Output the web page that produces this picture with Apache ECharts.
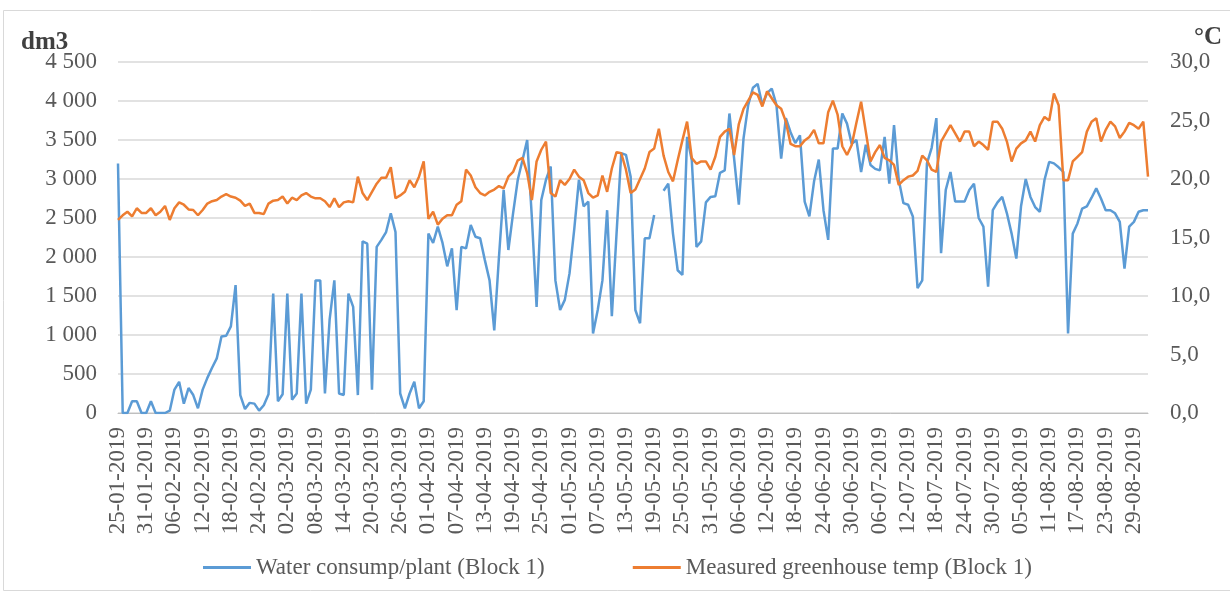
<!DOCTYPE html>
<html>
<head>
<meta charset="utf-8">
<script src="https://cdn.jsdelivr.net/npm/echarts@6/dist/echarts.min.js"></script>
<style>
html,body{margin:0;padding:0;background:#fff;}
#chart{width:1230px;height:594px;}
</style>
</head>
<body>
<div id="chart"></div>
<script>
// ---- data ----
const startDate = [2019, 0, 25];   // 25-01-2019
const dayCount = 220;              // 25-01-2019 .. 01-09-2019
const categories = [];
for (let i = 0; i < dayCount; i++) {
  const d = new Date(Date.UTC(startDate[0], startDate[1], startDate[2] + i));
  const dd = String(d.getUTCDate()).padStart(2, '0');
  const mm = String(d.getUTCMonth() + 1).padStart(2, '0');
  categories.push(dd + '-' + mm + '-' + d.getUTCFullYear());
}

const waterConsumption = [
  3200, 0, 0, 150, 150, 0, 0, 150, 0, 0,
  0, 30, 300, 400, 120, 320, 230, 60, 300, 450,
  580, 700, 980, 990, 1110, 1640, 230, 50, 130, 120,
  30, 100, 240, 1530, 150, 240, 1530, 170, 250, 1530,
  120, 300, 1700, 1700, 250, 1200, 1700, 250, 230, 1530,
  1360, 230, 2200, 2170, 300, 2130, 2220, 2320, 2560, 2320,
  250, 60, 250, 400, 60, 150, 2300, 2180, 2390, 2180,
  1880, 2110, 1320, 2130, 2110, 2410, 2260, 2240, 1960, 1700,
  1060, 2000, 2860, 2090, 2560, 2990, 3240, 3500, 2500, 1360,
  2730, 2990, 3160, 1700, 1320, 1450, 1790, 2350, 2990, 2650,
  2710, 1020, 1320, 1700, 2600, 1240, 2300, 3330, 3310, 3030,
  1320, 1150, 2240, 2240, 2540, null, 2850, 2940, 2300, 1830,
  1770, 3540, 3240, 2130, 2200, 2700, 2770, 2780, 3080, 3110,
  3840, 3260, 2670, 3520, 3950, 4170, 4220, 3950, 4100, 4160,
  3950, 3260, 3780, 3600, 3460, 3560, 2710, 2520, 2970, 3250,
  2600, 2220, 3390, 3390, 3840, 3710, 3450, 3500, 3090, 3440,
  3180, 3130, 3110, 3540, 2940, 3690, 2990, 2690, 2670, 2520,
  1600, 1700, 3200, 3400, 3780, 2050, 2860, 3090, 2710, 2710,
  2710, 2860, 2940, 2500, 2390, 1620, 2600, 2700, 2770, 2560,
  2300, 1980, 2650, 3000, 2770, 2640, 2580, 2990, 3220, 3200,
  3150, 3090, 1020, 2300, 2430, 2620, 2650, 2760, 2880, 2750,
  2600, 2600, 2560, 2450, 1850, 2390, 2450, 2580, 2600, 2600
];

const greenhouseTemp = [
  16.5, 16.9, 17.2, 16.8, 17.5, 17.1, 17.1, 17.5, 16.9, 17.2,
  17.7, 16.5, 17.5, 18.0, 17.8, 17.4, 17.35, 16.9, 17.35, 17.9,
  18.1, 18.2, 18.5, 18.7, 18.5, 18.4, 18.15, 17.7, 17.9, 17.1,
  17.1, 17.0, 17.9, 18.15, 18.2, 18.5, 17.9, 18.4, 18.2, 18.6,
  18.8, 18.5, 18.35, 18.35, 18.1, 17.6, 18.35, 17.6, 18.0, 18.1,
  18.0, 20.2, 18.8, 18.2, 18.9, 19.6, 20.1, 20.1, 21.0, 18.35,
  18.6, 18.9, 19.9, 19.3, 20.2, 21.5, 16.6, 17.2, 16.1, 16.6,
  16.9, 16.9, 17.8, 18.1, 20.8, 20.3, 19.3, 18.8, 18.6, 18.9,
  19.1, 19.4, 19.2, 20.2, 20.6, 21.6, 21.8, 20.5, 18.2, 21.5,
  22.5, 23.2, 18.8, 18.5, 19.9, 19.5, 20.0, 20.8, 20.2, 19.9,
  18.8, 18.4, 18.6, 20.3, 18.9, 20.9, 22.3, 22.2, 20.8, 18.8,
  19.1, 20.0, 20.9, 22.3, 22.6, 24.3, 22.0, 20.6, 19.8, 21.6,
  23.3, 24.9, 21.8, 21.3, 21.5, 21.5, 20.8, 21.9, 23.6, 24.05,
  24.3, 22.05, 24.7, 26.0, 26.7, 27.4, 27.2, 26.2, 27.5, 26.9,
  26.3, 26.0, 24.9, 23.0, 22.8, 22.8, 23.3, 23.6, 24.2, 23.05,
  23.05, 25.7, 26.7, 25.5, 22.8, 22.05, 22.9, 24.8, 26.6, 24.05,
  21.5, 22.3, 22.9, 21.8, 21.6, 21.2, 19.5, 19.9, 20.2, 20.3,
  20.7, 22.0, 21.6, 20.8, 20.6, 23.2, 23.9, 24.6, 23.9, 23.2,
  24.05, 24.05, 22.8, 23.2, 22.9, 22.5, 24.9, 24.9, 24.3, 23.2,
  21.5, 22.6, 23.05, 23.3, 24.05, 23.2, 24.6, 25.3, 25.0, 27.3,
  26.3, 19.9, 19.9, 21.5, 21.9, 22.3, 24.05, 24.9, 25.2, 23.2,
  24.2, 24.9, 24.5, 23.5, 24.05, 24.8, 24.6, 24.3, 24.9, 20.2
];

const seriesNames = ['Water consump/plant (Block 1)', 'Measured greenhouse temp (Block 1)'];
const leftUnit = 'dm3';
const rightUnit = '°C';
const leftAxisRange = [0, 4500, 500];
const rightAxisRange = [0, 30, 5];

// ---- chart ----
const FONT = "'Liberation Serif', 'Times New Roman', serif";
const TXT = '#595959';
const chart = echarts.init(document.getElementById('chart'), null, {renderer: 'canvas'});

function fmtLeft(v) {
  return String(v).replace(/\B(?=(\d{3})+(?!\d))/g, ' ');
}
function fmtRight(v) {
  return v.toFixed(1).replace('.', ',');
}

chart.setOption({
  backgroundColor: '#ffffff',
  animation: false,
  graphic: [
    {type: 'rect', shape: {x: 3.5, y: 10.5, width: 1240, height: 580},
     style: {fill: 'none', stroke: '#d9d9d9', lineWidth: 1}, silent: true},
    {type: 'text', left: 21, top: 30,
     style: {text: leftUnit, font: "bold 25px 'Liberation Serif', serif", fill: '#404040'}},
    {type: 'text', left: 1194, top: 25,
     style: {text: rightUnit, font: "bold 25px 'Liberation Serif', serif", fill: '#404040'}}
  ],
  grid: {left: 118, right: 82, top: 62, bottom: 181, containLabel: false},
  legend: {
    data: seriesNames,
    left: 198, top: 551,
    icon: 'rect', itemWidth: 48, itemHeight: 3, itemGap: 88,
    textStyle: {fontFamily: FONT, fontSize: 23, color: TXT, padding: [0, 0, 0, 0]}
  },
  xAxis: {
    type: 'category',
    data: categories,
    boundaryGap: false,
    axisLine: {show: true, lineStyle: {color: '#bfbfbf', width: 1}},
    axisTick: {show: false},
    splitLine: {show: false},
    axisLabel: {
      interval: 5, rotate: 90, margin: 14,
      fontFamily: FONT, fontSize: 23, color: TXT
    }
  },
  yAxis: [
    {
      type: 'value', position: 'left',
      min: leftAxisRange[0], max: leftAxisRange[1], interval: leftAxisRange[2],
      axisLine: {show: false}, axisTick: {show: false},
      splitLine: {show: true, lineStyle: {color: '#d9d9d9', width: 1.5}},
      axisLabel: {formatter: fmtLeft, margin: 21, fontFamily: FONT, fontSize: 23, color: TXT}
    },
    {
      type: 'value', position: 'right',
      min: rightAxisRange[0], max: rightAxisRange[1], interval: rightAxisRange[2],
      axisLine: {show: false}, axisTick: {show: false},
      splitLine: {show: false},
      axisLabel: {formatter: fmtRight, margin: 22, fontFamily: FONT, fontSize: 23, color: TXT}
    }
  ],
  series: [
    {
      name: seriesNames[0], type: 'line', yAxisIndex: 0,
      data: waterConsumption, showSymbol: false, symbol: 'none',
      connectNulls: false,
      lineStyle: {color: '#5b9bd5', width: 2.5},
      itemStyle: {color: '#5b9bd5'}
    },
    {
      name: seriesNames[1], type: 'line', yAxisIndex: 1,
      data: greenhouseTemp, showSymbol: false, symbol: 'none',
      lineStyle: {color: '#ed7d31', width: 2.5},
      itemStyle: {color: '#ed7d31'}
    }
  ]
});
</script>
</body>
</html>
